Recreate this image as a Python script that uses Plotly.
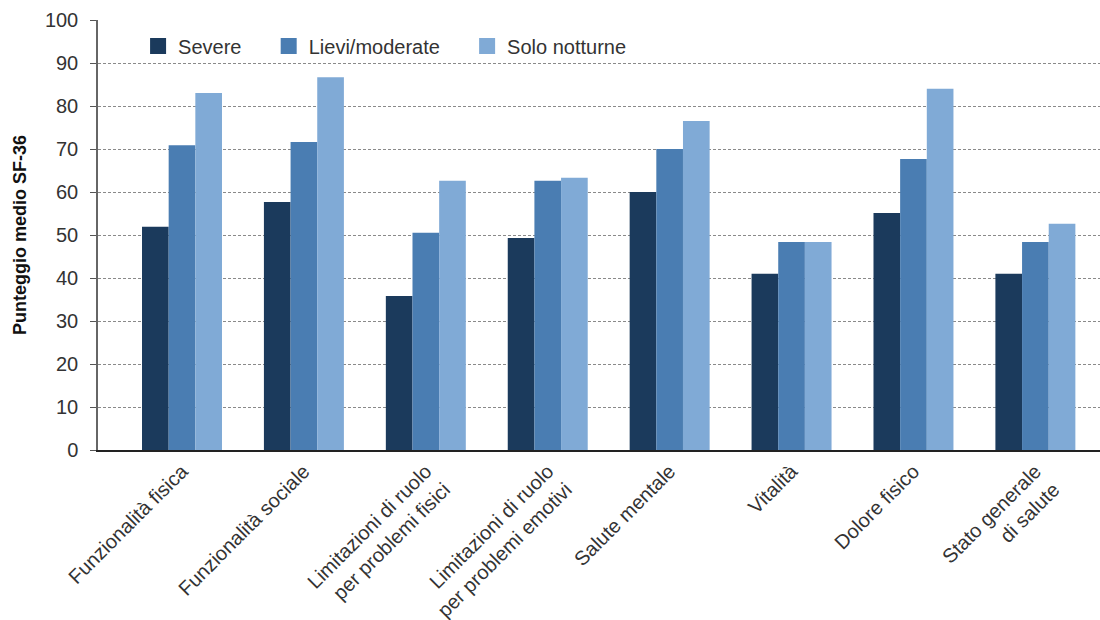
import plotly.graph_objects as go

categories = [
    "Funzionalità fisica",
    "Funzionalità sociale",
    "Limitazioni di ruolo<br>per problemi fisici",
    "Limitazioni di ruolo<br>per problemi emotivi",
    "Salute mentale",
    "Vitalità",
    "Dolore fisico",
    "Stato generale<br>di salute",
]
severe = [51.9, 57.7, 35.8, 49.3, 60.0, 41.0, 55.1, 41.0]
lievi_moderate = [70.9, 71.6, 50.5, 62.6, 70.0, 48.4, 67.7, 48.4]
solo_notturne = [83.0, 86.7, 62.6, 63.3, 76.5, 48.4, 84.0, 52.6]

series_names = ["Severe", "Lievi/moderate", "Solo notturne"]
series_values = [severe, lievi_moderate, solo_notturne]
colors = ["#1b3a5c", "#4a7db2", "#80aad6"]

y_ticks = [0, 10, 20, 30, 40, 50, 60, 70, 80, 90, 100]

FONT = "Liberation Sans, Arial, sans-serif"
PAD = "\u00a0\u00a0\u00a0\u00a0"

fig = go.Figure()
for name, vals, col in zip(series_names, series_values, colors):
    fig.add_trace(go.Bar(x=categories, y=vals, name=name, marker_color=col,
                         marker_line_width=0, showlegend=False))
# legend-only entries with square swatches
for name, col in zip(series_names, colors):
    fig.add_trace(go.Scatter(x=[None], y=[None], mode="markers", name=name + PAD,
                             marker=dict(symbol="square", size=16, color=col),
                             showlegend=True))

fig.update_layout(
    width=1100, height=620,
    margin=dict(l=98, r=0, t=20, b=170),
    paper_bgcolor="white", plot_bgcolor="white",
    font=dict(family=FONT, color="#333333", size=20),
    barmode="group", bargap=0.344, bargroupgap=0,
    legend=dict(orientation="h", x=0.04, y=0.985, xanchor="left", yanchor="top",
                font=dict(size=20, color="#333333"), bgcolor="rgba(0,0,0,0)",
                itemclick=False),
    xaxis=dict(
        type="category", range=[-0.689, 7.53],
        showline=True, linecolor="#222222", linewidth=1.5,
        ticks="", tickangle=-45, tickfont=dict(size=20, color="#333333"),
        showgrid=False, zeroline=False,
    ),
    yaxis=dict(
        range=[0, 100], tickvals=y_ticks, ticktext=[str(v) for v in y_ticks],
        showline=True, linecolor="#666666", linewidth=1.5,
        ticks="outside", ticklen=6, tickcolor="#555555", tickwidth=1,
        ticklabelstandoff=8,
        tickfont=dict(size=20, color="#333333"),
        showgrid=True, gridcolor="#8a8a8a", gridwidth=1.2, griddash="3px,2px",
        zeroline=False,
        title=dict(text="<b>Punteggio medio SF-36</b>", font=dict(size=18, color="#111111"),
                   standoff=14),
    ),
)

fig.write_html("out.html")
